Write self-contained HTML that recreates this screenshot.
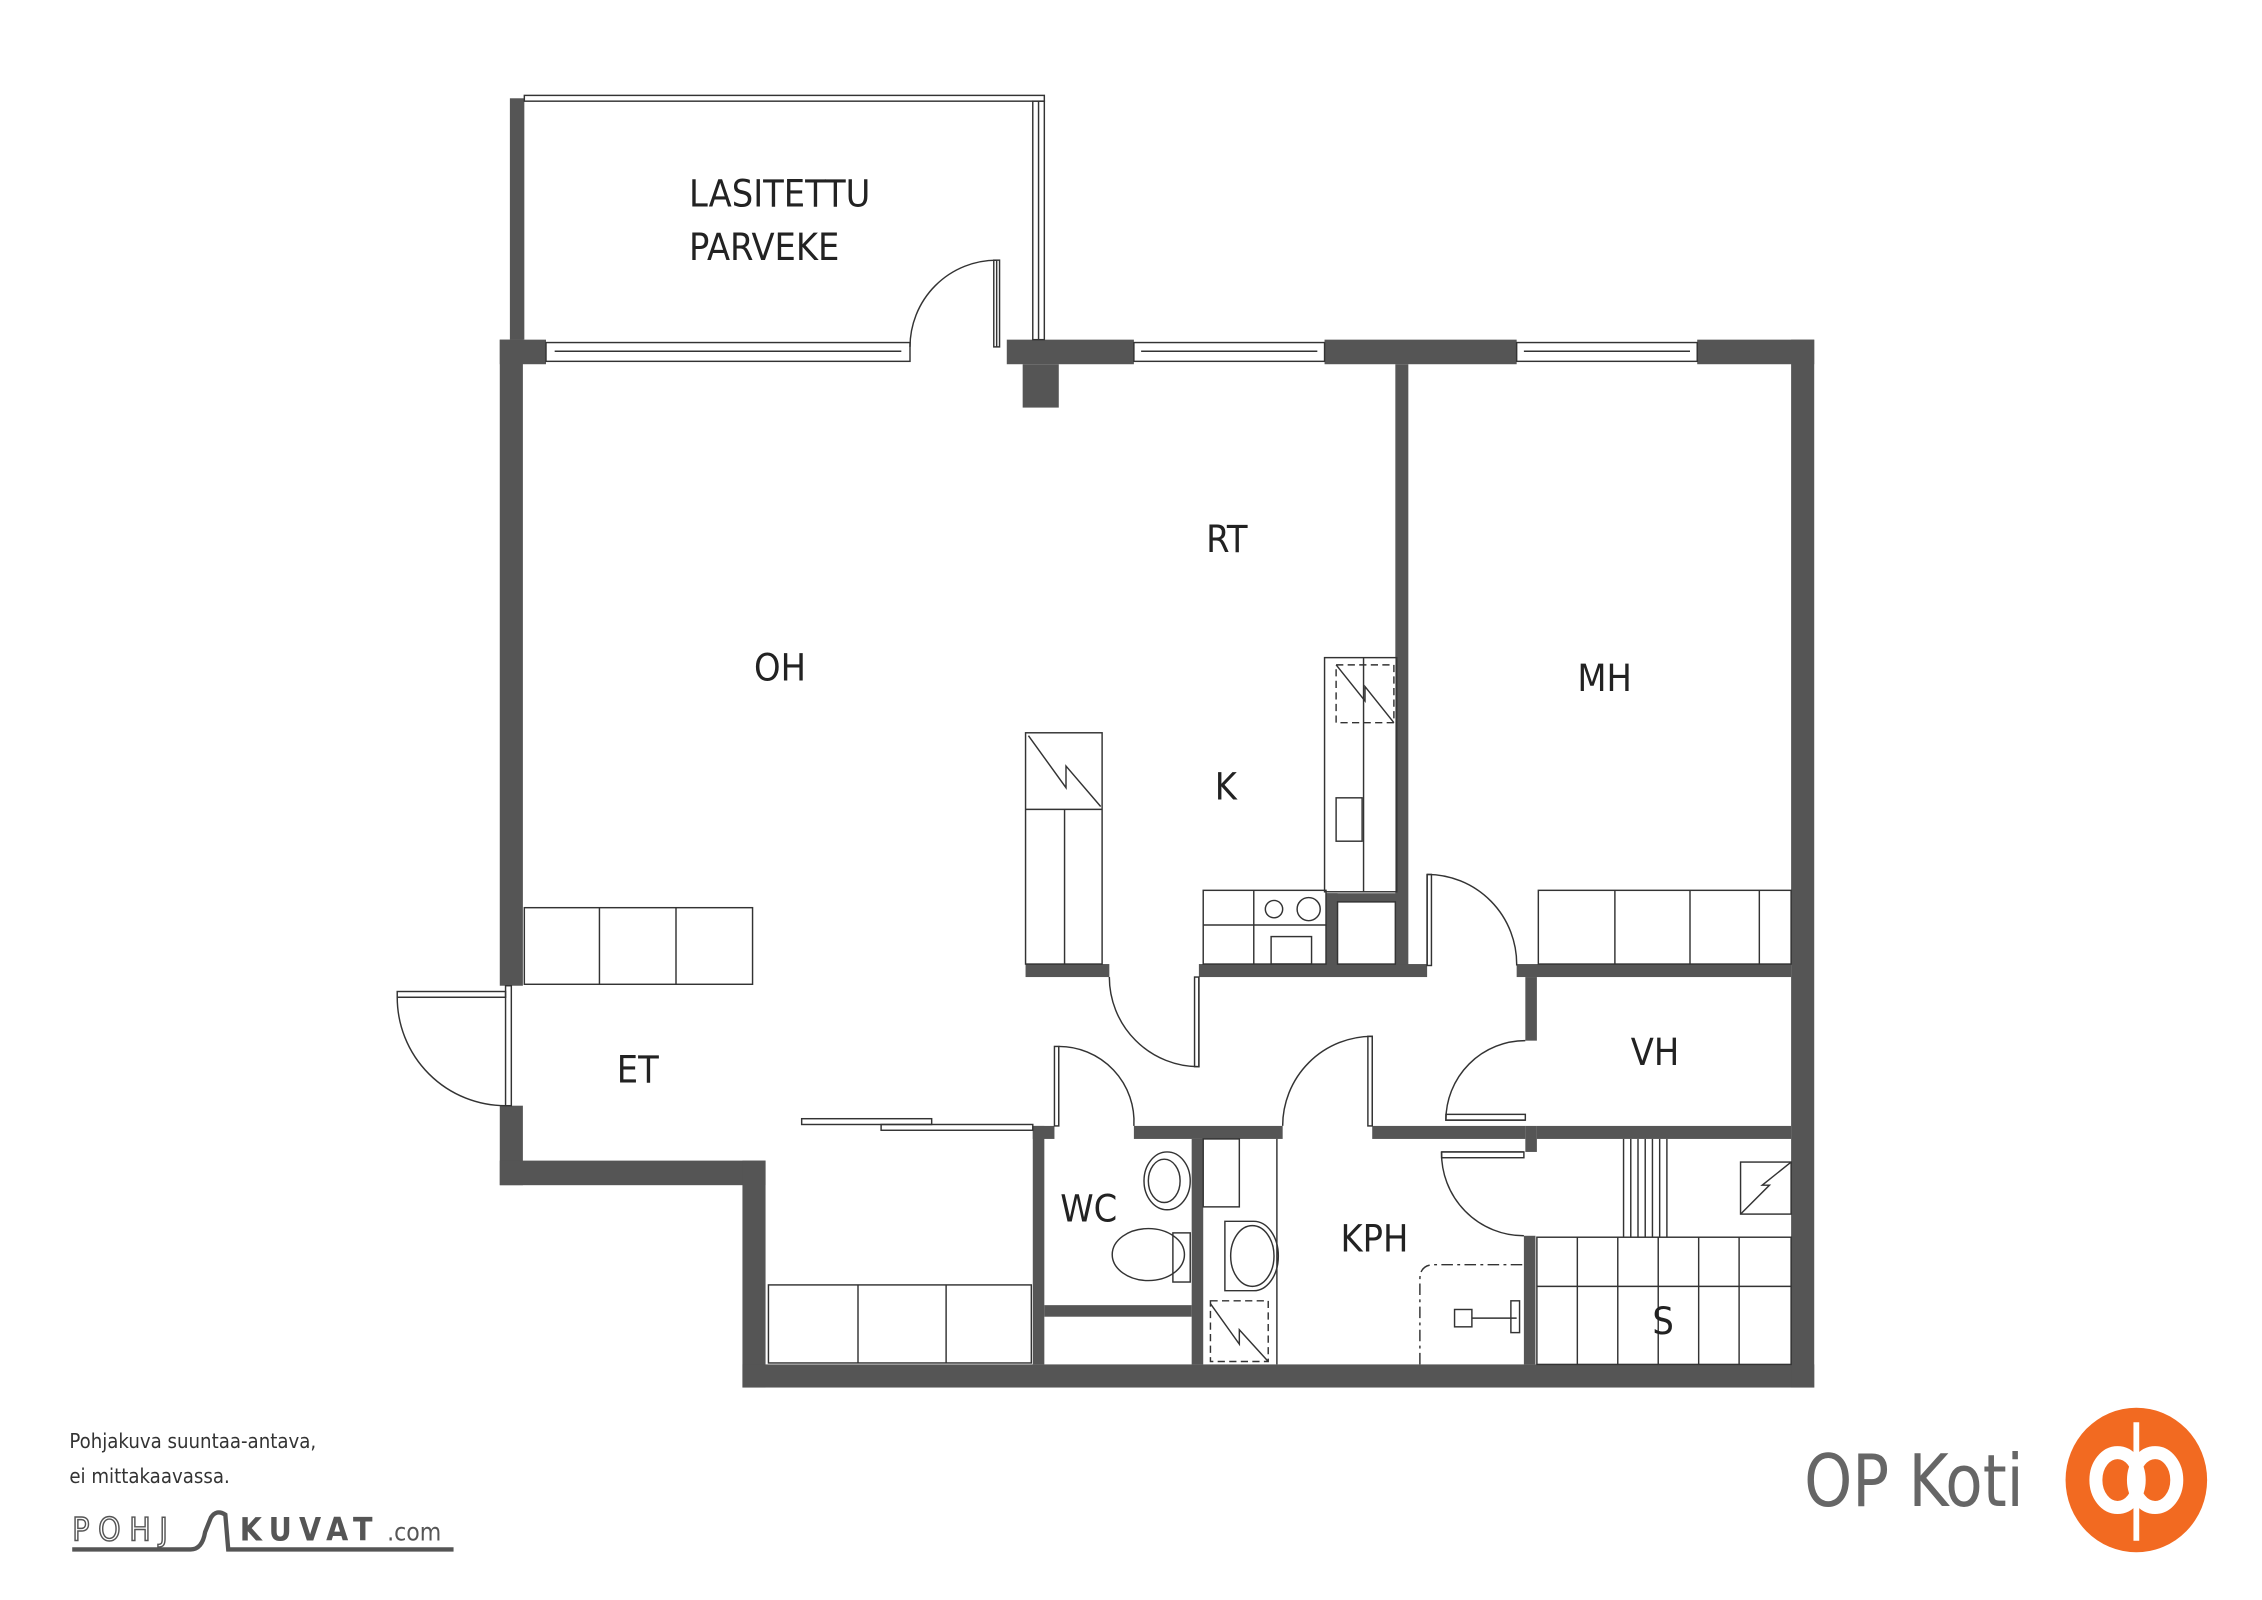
<!DOCTYPE html>
<html><head><meta charset="utf-8"><style>
html,body{margin:0;padding:0;background:#fff}
svg{display:block}
text{font-family:"DejaVu Sans Condensed","Liberation Sans",sans-serif}
</style></head><body>
<svg width="2262" height="1600" viewBox="0 0 1566 1107" preserveAspectRatio="none" xmlns="http://www.w3.org/2000/svg">
<g fill="#555">
<rect x="346" y="235" width="16" height="447"/>
<rect x="346" y="765" width="16" height="55"/>
<rect x="346" y="803" width="184" height="17"/>
<rect x="514" y="803" width="16" height="157"/>
<rect x="514" y="944" width="742" height="16"/>
<rect x="1240" y="235" width="16" height="725"/>
<rect x="346" y="235" width="32" height="17"/>
<rect x="697" y="235" width="88" height="17"/>
<rect x="917" y="235" width="133" height="17"/>
<rect x="1175" y="235" width="81" height="17"/>
<rect x="708" y="252" width="25" height="30"/>
<rect x="353" y="68" width="10" height="167"/>
<rect x="966" y="252" width="9" height="416"/>
<rect x="710" y="667" width="58" height="9"/>
<rect x="830" y="667" width="158" height="9"/>
<rect x="1050" y="667" width="190" height="9"/>
<rect x="918" y="618" width="50" height="6"/>
<rect x="918" y="618" width="8" height="50"/>
<rect x="1056" y="676" width="8" height="44"/>
<rect x="715" y="779" width="15" height="9"/>
<rect x="785" y="779" width="103" height="9"/>
<rect x="950" y="779" width="106" height="9"/>
<rect x="1064" y="779" width="176" height="9"/>
<rect x="1056" y="779" width="8" height="18"/>
<rect x="715" y="779" width="8" height="165"/>
<rect x="825" y="788" width="8" height="156"/>
<rect x="723" y="903" width="102" height="8"/>
<rect x="1055" y="855" width="8" height="89"/>
</g>
<g fill="none" stroke="#333" stroke-width="1">
<rect x="378" y="237" width="252" height="13"/><line x1="384" y1="243" x2="624" y2="243"/>
<rect x="785" y="237" width="132" height="13"/><line x1="790" y1="243" x2="912" y2="243"/>
<rect x="1050" y="237" width="125" height="13"/><line x1="1055" y1="243" x2="1170" y2="243"/>
<rect x="363" y="66" width="360" height="4"/>
<rect x="715" y="70" width="8" height="165"/><line x1="719" y1="70" x2="719" y2="235"/>
<path d="M630 240 A60 60 0 0 1 690 180 L690 240"/><rect x="688" y="180" width="4" height="60"/>
<rect x="350" y="682" width="4" height="83"/>
<path d="M350 765 A75 75 0 0 1 275 690 L350 690"/><rect x="275" y="686" width="75" height="4"/>
<path d="M768 676 A62 62 0 0 0 830 738 L830 676"/><rect x="827" y="676" width="3" height="62"/>
<path d="M733 779 L733 724"/><rect x="730" y="724" width="3" height="55"/>
<path d="M733 724 A52 52 0 0 1 785 779"/>
<path d="M888 779 A62 62 0 0 1 950 717 L950 779"/><rect x="947" y="717" width="3" height="62"/>
<path d="M988 605 L988 668 M988 605 A62 62 0 0 1 1050 668"/><rect x="988" y="605" width="3" height="63"/>
<path d="M1056 720 A55 55 0 0 0 1001 775 L1056 775"/><rect x="1001" y="771" width="55" height="4"/>
<path d="M998 797 L1055 797 M998 797 A57 57 0 0 0 1055 855"/><rect x="998" y="797" width="57" height="4"/>
<rect x="555" y="774" width="90" height="4"/><rect x="610" y="778" width="105" height="4"/>
<rect x="363" y="628" width="158" height="53"/><line x1="415" y1="628" x2="415" y2="681"/><line x1="468" y1="628" x2="468" y2="681"/>
<rect x="710" y="507" width="53" height="160"/><line x1="710" y1="560" x2="763" y2="560"/><line x1="737" y1="560" x2="737" y2="667"/>
<path d="M712 509 L738 545 L738 530 L762 558"/>
<rect x="917" y="455" width="50" height="162"/><line x1="944" y1="455" x2="944" y2="617"/>
<rect x="925" y="460" width="40" height="40" stroke-dasharray="5 3"/><path d="M925 460 L945 485 L945 475 L965 500"/>
<rect x="925" y="552" width="18" height="30"/>
<rect x="833" y="616" width="85" height="51"/><line x1="868" y1="616" x2="868" y2="667"/><line x1="833" y1="640" x2="918" y2="640"/>
<circle cx="882" cy="629" r="6"/><circle cx="906" cy="629" r="8"/><rect x="880" y="648" width="28" height="19"/>
<rect x="926" y="624" width="40" height="43"/>
<rect x="1065" y="616" width="175" height="51"/><line x1="1118" y1="616" x2="1118" y2="667"/><line x1="1170" y1="616" x2="1170" y2="667"/><line x1="1218" y1="616" x2="1218" y2="667"/>
<rect x="532" y="889" width="182" height="54"/><line x1="594" y1="889" x2="594" y2="943"/><line x1="655" y1="889" x2="655" y2="943"/>
<ellipse cx="808" cy="817" rx="16" ry="20"/><ellipse cx="806" cy="817" rx="11" ry="15"/>
<ellipse cx="795" cy="868" rx="25" ry="18"/><rect x="812" y="853" width="12" height="34"/>
<rect x="833" y="788" width="25" height="47"/>
<path d="M848 845 L868 845 A17 24 0 0 1 868 893 L848 893 Z"/><ellipse cx="867" cy="869" rx="15" ry="21"/>
<rect x="838" y="900" width="40" height="42" stroke-dasharray="5 3"/><path d="M838 902 L858 930 L858 920 L878 942"/>
<line x1="884" y1="788" x2="884" y2="944"/>
<path d="M983 944 L983 885 Q983 875 993 875 L1055 875" stroke-dasharray="8 3 2 3"/>
<rect x="1007" y="906" width="12" height="12"/><line x1="1019" y1="912" x2="1050" y2="912"/><rect x="1046" y="900" width="6" height="22"/>
<rect x="1064" y="856" width="176" height="88"/><line x1="1064" y1="890" x2="1240" y2="890"/>
<g><line x1="1092" y1="856" x2="1092" y2="944"/><line x1="1120" y1="856" x2="1120" y2="944"/><line x1="1148" y1="856" x2="1148" y2="944"/><line x1="1176" y1="856" x2="1176" y2="944"/><line x1="1204" y1="856" x2="1204" y2="944"/></g>
<g><line x1="1124" y1="788" x2="1124" y2="856"/><line x1="1129" y1="788" x2="1129" y2="856"/><line x1="1134" y1="788" x2="1134" y2="856"/><line x1="1139" y1="788" x2="1139" y2="856"/><line x1="1144" y1="788" x2="1144" y2="856"/><line x1="1149" y1="788" x2="1149" y2="856"/><line x1="1154" y1="788" x2="1154" y2="856"/></g>
<rect x="1205" y="804" width="35" height="36"/><path d="M1205 840 L1225 820 L1220 820 L1240 804"/>
</g>
<g fill="#222" font-size="26">
<text x="477" y="143">LASITETTU</text>
<text x="477" y="180">PARVEKE</text>
<text x="835" y="382">RT</text>
<text x="522" y="471">OH</text>
<text x="841" y="553">K</text>
<text x="1092" y="478">MH</text>
<text x="427" y="749">ET</text>
<text x="1129" y="737">VH</text>
<text x="734" y="845">WC</text>
<text x="928" y="866">KPH</text>
<text x="1144" y="923">S</text>
</g>
<g fill="#333" font-size="14">
<text x="48" y="1002">Pohjakuva suuntaa-antava,</text>
<text x="48" y="1026">ei mittakaavassa.</text>
</g>
<g>
<text x="50" y="1066" font-size="22" fill="none" stroke="#555" stroke-width="1" letter-spacing="6">POHJ</text>
<text x="166" y="1066" font-size="22" fill="#555" font-weight="bold" letter-spacing="5">KUVAT</text>
<text x="268" y="1066" font-size="17" fill="#555">.com</text>
<path d="M50 1072 L132 1072 Q140 1072 142 1060 L146 1050 Q150 1044 156 1048 L158 1072 L314 1072" fill="none" stroke="#555" stroke-width="3"/>
</g>
<text x="1249" y="1042" font-size="50" fill="#666" textLength="152" lengthAdjust="spacingAndGlyphs">OP Koti</text>
<ellipse cx="1479" cy="1024" rx="49" ry="50" fill="#f26a21"/>
<g fill="none" stroke="#fff" stroke-width="9">
<ellipse cx="1466" cy="1024" rx="15" ry="19"/>
<ellipse cx="1492" cy="1024" rx="15" ry="19"/>
</g>
<line x1="1479" y1="984" x2="1479" y2="1066" stroke="#fff" stroke-width="4"/>
</svg>
</body></html>
